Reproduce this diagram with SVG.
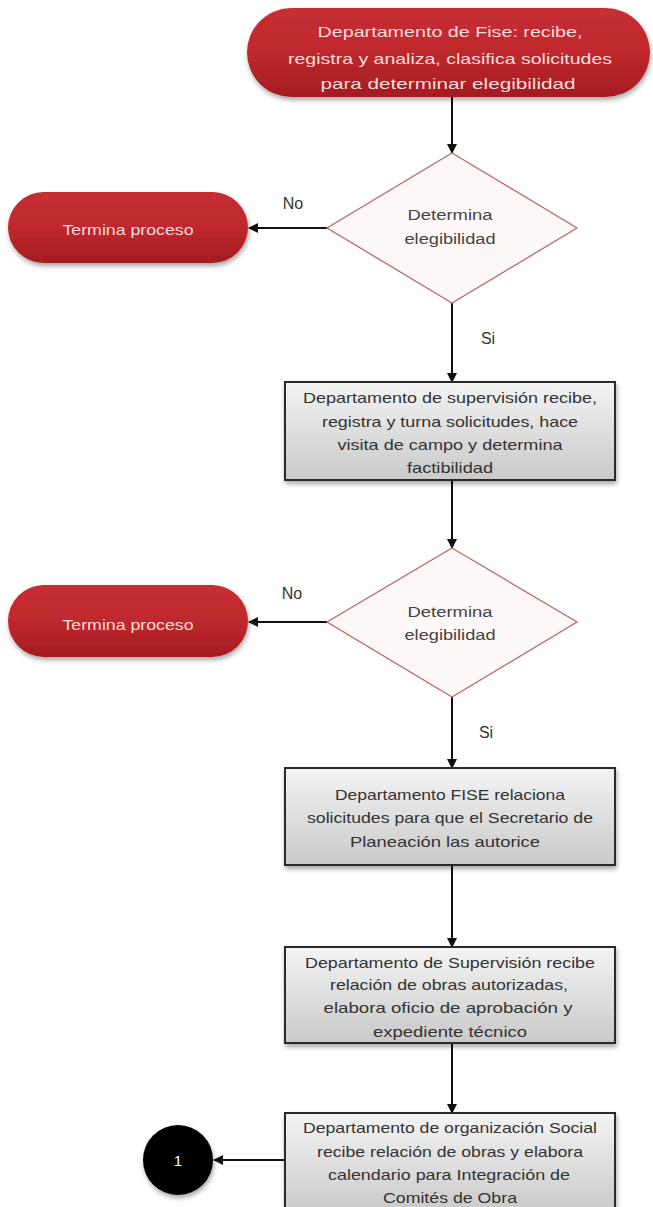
<svg xmlns="http://www.w3.org/2000/svg" width="653" height="1207" viewBox="0 0 653 1207">
  <style>
    .t{font-family:"Liberation Sans",Arial,sans-serif;text-anchor:middle}
    .red{fill:url(#gRed);filter:url(#sh)}
    .redt{fill:#F7DCDC;font-size:15px}
    .dia{fill:#FEF7F7;stroke:#B86A6A;stroke-width:1.3}
    .diat{fill:#444;font-size:14px}
    .box{fill:url(#gGray);stroke:#2A2A2A;stroke-width:2;filter:url(#sh)}
    .boxt{fill:#333;font-size:14.5px}
    .lbl{fill:#333;font-size:16px}
    .con{stroke:#111;stroke-width:2;fill:none;marker-end:url(#ah)}
  </style>
  <defs>
    <linearGradient id="gRed" x1="0" y1="0" x2="0" y2="1">
      <stop offset="0" stop-color="#C62E33"/>
      <stop offset="0.5" stop-color="#C0282D"/>
      <stop offset="1" stop-color="#A31C21"/>
    </linearGradient>
    <linearGradient id="gGray" x1="0" y1="0" x2="0" y2="1">
      <stop offset="0" stop-color="#F4F4F4"/>
      <stop offset="1" stop-color="#C9C9C9"/>
    </linearGradient>
    <filter id="sh" x="-10%" y="-20%" width="120%" height="150%">
      <feDropShadow dx="1" dy="3" stdDeviation="2.5" flood-color="#000" flood-opacity="0.35"/>
    </filter>
    <marker id="ah" markerWidth="10" markerHeight="10" refX="9" refY="5" orient="auto" markerUnits="userSpaceOnUse">
      <path d="M0,0 L10,5 L0,10 Z" fill="#111"/>
    </marker>
  </defs>

  <g id="connectors">
    <line class="con" x1="452" y1="97" x2="452" y2="153"/>
    <line class="con" x1="327" y1="228" x2="249" y2="228"/>
    <line class="con" x1="452" y1="303" x2="452" y2="382"/>
    <line class="con" x1="452" y1="480" x2="452" y2="548"/>
    <line class="con" x1="327" y1="622" x2="249" y2="622"/>
    <line class="con" x1="452" y1="697" x2="452" y2="768"/>
    <line class="con" x1="452" y1="865" x2="452" y2="947"/>
    <line class="con" x1="452" y1="1043" x2="452" y2="1113"/>
    <line class="con" x1="285" y1="1160" x2="214" y2="1160"/>
    <text class="t lbl" x="293" y="209">No</text>
    <text class="t lbl" x="488" y="344">Si</text>
    <text class="t lbl" x="292" y="599">No</text>
    <text class="t lbl" x="486" y="738">Si</text>
  </g>

  <g id="start">
    <rect class="red" x="247" y="8" width="403" height="89" rx="44.5"/>
    <text class="t redt" font-size="16" x="450" y="37" textLength="265" lengthAdjust="spacingAndGlyphs">Departamento de Fise: recibe,</text>
    <text class="t redt" font-size="16" x="450" y="64" textLength="324" lengthAdjust="spacingAndGlyphs">registra y analiza, clasifica solicitudes</text>
    <text class="t redt" font-size="16" x="448" y="89" textLength="255" lengthAdjust="spacingAndGlyphs">para determinar elegibilidad</text>
  </g>

  <g id="decision1">
    <polygon class="dia" points="452,153 577,228 452,303 327,228"/>
    <text class="t diat" x="450" y="220" textLength="85" lengthAdjust="spacingAndGlyphs">Determina</text>
    <text class="t diat" x="450" y="244" textLength="91" lengthAdjust="spacingAndGlyphs">elegibilidad</text>
  </g>

  <g id="end1">
    <rect class="red" x="8" y="192" width="240" height="71" rx="35.5"/>
    <text class="t redt" x="128" y="235" textLength="131" lengthAdjust="spacingAndGlyphs">Termina proceso</text>
  </g>

  <g id="box1">
    <rect class="box" x="285" y="382" width="330" height="98"/>
    <text class="t boxt" x="450" y="403" textLength="294" lengthAdjust="spacingAndGlyphs">Departamento de supervisión recibe,</text>
    <text class="t boxt" x="450" y="427" textLength="256" lengthAdjust="spacingAndGlyphs">registra y turna solicitudes, hace</text>
    <text class="t boxt" x="450" y="450" textLength="225" lengthAdjust="spacingAndGlyphs">visita de campo y determina</text>
    <text class="t boxt" x="450" y="473" textLength="86" lengthAdjust="spacingAndGlyphs">factibilidad</text>
  </g>

  <g id="decision2">
    <polygon class="dia" points="452,548 577,622 452,697 327,622"/>
    <text class="t diat" x="450" y="617" textLength="85" lengthAdjust="spacingAndGlyphs">Determina</text>
    <text class="t diat" x="450" y="640" textLength="91" lengthAdjust="spacingAndGlyphs">elegibilidad</text>
  </g>

  <g id="end2">
    <rect class="red" x="8" y="585" width="240" height="72" rx="36"/>
    <text class="t redt" x="128" y="630" textLength="131" lengthAdjust="spacingAndGlyphs">Termina proceso</text>
  </g>

  <g id="box2">
    <rect class="box" x="285" y="768" width="330" height="97"/>
    <text class="t boxt" x="450" y="800" textLength="230" lengthAdjust="spacingAndGlyphs">Departamento FISE relaciona</text>
    <text class="t boxt" x="450" y="823" textLength="286" lengthAdjust="spacingAndGlyphs">solicitudes para que el Secretario de</text>
    <text class="t boxt" x="445" y="847" textLength="190" lengthAdjust="spacingAndGlyphs">Planeación las autorice</text>
  </g>

  <g id="box3">
    <rect class="box" x="285" y="947" width="330" height="96"/>
    <text class="t boxt" x="450" y="968" textLength="290" lengthAdjust="spacingAndGlyphs">Departamento de Supervisión recibe</text>
    <text class="t boxt" x="449" y="990" textLength="238" lengthAdjust="spacingAndGlyphs">relación de obras autorizadas,</text>
    <text class="t boxt" x="448" y="1013" textLength="249" lengthAdjust="spacingAndGlyphs">elabora oficio de aprobación y</text>
    <text class="t boxt" x="450" y="1037" textLength="154" lengthAdjust="spacingAndGlyphs">expediente técnico</text>
  </g>

  <g id="box4">
    <rect class="box" x="285" y="1113" width="330" height="100"/>
    <text class="t boxt" x="450" y="1133" textLength="294" lengthAdjust="spacingAndGlyphs">Departamento de organización Social</text>
    <text class="t boxt" x="450" y="1157" textLength="266" lengthAdjust="spacingAndGlyphs">recibe relación de obras y elabora</text>
    <text class="t boxt" x="449" y="1180" textLength="242" lengthAdjust="spacingAndGlyphs">calendario para Integración de</text>
    <text class="t boxt" x="450" y="1203" textLength="134" lengthAdjust="spacingAndGlyphs">Comités de Obra</text>
  </g>

  <g id="connector1">
    <circle cx="178" cy="1160" r="35" fill="#000" filter="url(#sh)"/>
    <text class="t" x="178" y="1166" fill="#fff" font-size="15">1</text>
  </g>
</svg>
